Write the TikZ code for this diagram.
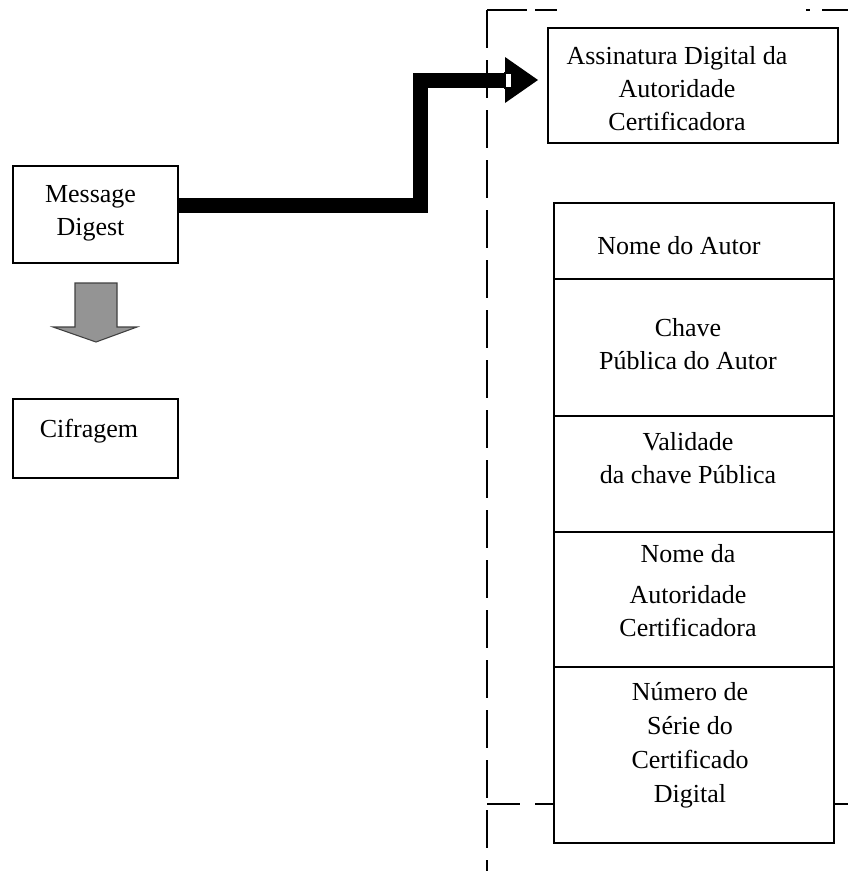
\documentclass[tikz,border=0pt]{standalone}
\usepackage{fontspec}
\setmainfont{Liberation Serif}
\begin{document}
\begin{tikzpicture}[x=0.75pt,y=-0.75pt,
  box/.style={draw=black, line width=1.2pt, fill=white, inner sep=0pt},
  txt/.style={font=\fontsize{19.5}{24.75}\selectfont, align=center, inner sep=0pt},
  framev/.style={line width=1.2pt, dash pattern=on 28.5pt off 9pt},
  frameh/.style={line width=1.2pt},
  bigarrow/.style={line width=15*0.75pt, line join=miter, line cap=butt}]
\useasboundingbox (0,0) rectangle (848,871);
% dashed frame
\draw[framev] (487,10) -- (487,871);
\draw[frameh] (487,10) -- (527,10) (535,10) -- (557,10);
\draw[frameh] (806,10) -- (810,10) (822,10) -- (848,10);
\draw[frameh] (487,804) -- (520,804) (535,804) -- (553,804);
\draw[frameh] (835,804) -- (848,804);
% left boxes
\node[box, minimum width=165*0.75pt, minimum height=97*0.75pt] (md) at (95.5,214.5) {};
\node[txt] (tmd) at (90.5,213) {Message\\Digest};
\node[box, minimum width=165*0.75pt, minimum height=79*0.75pt] (cif) at (95.5,438.5) {};
\node[txt] (tcif) at (89,431) {Cifragem};
% gray arrow
\coordinate (ga) at (96,283);
\draw[fill=black!42, draw=black!75, line width=0.8pt]
  (75,283) -- (117,283) -- (117,327) -- (137,327) -- (96,342) -- (53,327) -- (75,327) -- cycle;
% certificate signature box
\node[box, minimum width=290*0.75pt, minimum height=115*0.75pt] (asn) at (693,85.5) {};
\node[txt] (tasn) at (677,89) {Assinatura Digital da\\Autoridade\\Certificadora};
% thick connector
\coordinate (h1) at (0,205);
\coordinate (bend) at (420,205);
\coordinate (tipbase) at (505,80);
\draw[bigarrow] (md.east |- h1) -- (bend) -- (bend |- tipbase) -- (tipbase);
\fill[black] (505,57) -- (538,80) -- (505,103) -- cycle;
\draw[fill=white, line width=1pt] (505,73) rectangle (512,88);
% stacked certificate fields
\node[box, minimum width=280*0.75pt, minimum height=76*0.75pt] (f1) at (694,241) {};
\node[box, minimum width=280*0.75pt, minimum height=137*0.75pt] (f2) at (694,347.5) {};
\node[box, minimum width=280*0.75pt, minimum height=116*0.75pt] (f3) at (694,474) {};
\node[box, minimum width=280*0.75pt, minimum height=135*0.75pt] (f4) at (694,599.5) {};
\node[box, minimum width=280*0.75pt, minimum height=176*0.75pt] (f5) at (694,755) {};
\node[txt] (t1) at (679,246) {Nome do Autor};
\node[txt] (t2) at (688,344) {Chave\\Pública do Autor};
\node[txt] (t3) at (688,458) {Validade\\da chave Pública};
\node[txt] (t4) at (688,591) {Nome da\\[6pt]Autoridade\\Certificadora};
\node[txt, font=\fontsize{19.5}{25.5}\selectfont] (t5) at (690,745) {Número de\\Série do\\Certificado\\Digital};
\end{tikzpicture}
\end{document}
